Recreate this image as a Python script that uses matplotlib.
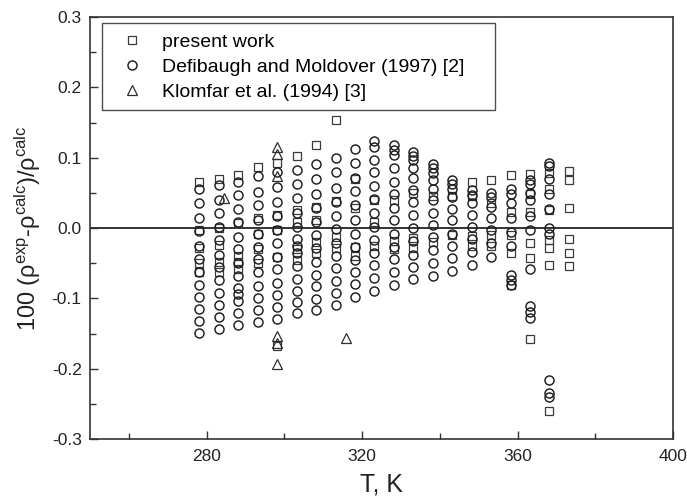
import matplotlib
matplotlib.use('Agg')
import matplotlib.pyplot as plt
from matplotlib.ticker import MultipleLocator

plt.rcParams['font.family'] = ['Liberation Sans', 'DejaVu Sans']
plt.rcParams['mathtext.fontset'] = 'custom'
plt.rcParams['mathtext.rm'] = 'Liberation Sans'
plt.rcParams['mathtext.it'] = 'Liberation Sans'

# present work (squares)
pw_temps = [278.15, 283.15, 288.15, 293.15, 298.15, 303.15, 308.15, 313.15, 318.15, 323.15,
            328.15, 333.15, 338.15, 343.15, 348.15, 353.15, 358.15, 363.15, 368.15, 373.15]
pw_dev = [
    [0.065, -0.003, -0.029, -0.050, -0.063],
    [0.069, 0.000, -0.024, -0.048, -0.062],
    [0.076, 0.007, -0.040, -0.048, -0.058],
    [0.087, 0.014, -0.008, -0.030, -0.050],
    [0.093, 0.018, -0.003, -0.041, -0.168],
    [0.103, 0.026, 0.009, -0.030, -0.045],
    [0.118, 0.030, 0.012, -0.020, -0.035],
    [0.153, 0.038, -0.013, -0.029],
    [0.070, 0.028, -0.027, -0.040],
    [0.040, 0.009, -0.026],
    [0.040, -0.018, -0.030],
    [0.050, -0.014, -0.028],
    [0.045, -0.020],
    [0.045, -0.010],
    [0.066, 0.045, -0.012, -0.025],
    [0.068, 0.035, -0.010, -0.025],
    [0.075, 0.023, -0.010, -0.036, -0.081],
    [0.077, 0.049, 0.023, -0.022, -0.043, -0.158],
    [0.078, 0.056, 0.026, -0.017, -0.029, -0.053, -0.260],
    [0.081, 0.068, 0.028, -0.015, -0.035, -0.054],
]

# Defibaugh and Moldover (circles)
dm_temps = [278.15, 283.15, 288.15, 293.15, 298.15, 303.15, 308.15, 313.15, 318.15, 323.15,
            328.15, 333.15, 338.15, 343.15, 348.15, 353.15, 358.15, 363.15, 368.15]
dm_dev = [
    [0.055, 0.035, 0.014, -0.004, -0.026, -0.044, -0.063, -0.081, -0.098, -0.115, -0.132, -0.149],
    [0.061, 0.040, 0.021, 0.002, -0.017, -0.038, -0.055, -0.074, -0.092, -0.110, -0.127, -0.143],
    [0.066, 0.047, 0.027, 0.008, -0.013, -0.030, -0.050, -0.068, -0.086, -0.094, -0.104, -0.121, -0.138],
    [0.074, 0.051, 0.032, 0.011, -0.008, -0.027, -0.044, -0.063, -0.082, -0.099, -0.116, -0.133],
    [0.079, 0.058, 0.037, 0.017, -0.003, -0.022, -0.041, -0.059, -0.078, -0.095, -0.112, -0.129],
    [0.083, 0.062, 0.042, 0.022, 0.002, -0.016, -0.026, -0.036, -0.054, -0.072, -0.089, -0.105, -0.121],
    [0.091, 0.070, 0.049, 0.029, 0.008, -0.010, -0.029, -0.048, -0.067, -0.083, -0.101, -0.116],
    [0.100, 0.079, 0.057, 0.037, 0.017, -0.002, -0.021, -0.040, -0.057, -0.076, -0.093, -0.109],
    [0.112, 0.092, 0.071, 0.052, 0.032, 0.011, -0.008, -0.027, -0.045, -0.063, -0.080, -0.098],
    [0.123, 0.115, 0.097, 0.079, 0.060, 0.041, 0.021, 0.002, -0.017, -0.036, -0.053, -0.071, -0.089],
    [0.118, 0.111, 0.104, 0.085, 0.066, 0.048, 0.029, 0.011, -0.008, -0.027, -0.044, -0.063, -0.081],
    [0.108, 0.103, 0.097, 0.085, 0.071, 0.054, 0.037, 0.018, 0.000, -0.019, -0.038, -0.055, -0.073],
    [0.091, 0.085, 0.078, 0.068, 0.055, 0.040, 0.022, 0.004, -0.013, -0.031, -0.050, -0.068],
    [0.068, 0.063, 0.056, 0.044, 0.027, 0.011, -0.008, -0.026, -0.043, -0.061],
    [0.054, 0.047, 0.036, 0.018, 0.002, -0.016, -0.034, -0.053],
    [0.050, 0.044, 0.030, 0.014, -0.003, -0.022, -0.041],
    [0.055, 0.049, 0.035, 0.014, -0.005, -0.026, -0.067, -0.074, -0.081],
    [0.068, 0.063, 0.050, 0.040, 0.017, -0.003, -0.059, -0.111, -0.119, -0.128],
    [0.093, 0.088, 0.070, 0.049, 0.027, 0.000, -0.008, -0.216, -0.235, -0.240],
]

# Klomfar et al. (triangles)
kl_temps = [284.4, 298.15, 298.15, 298.15, 298.15, 298.15, 298.15, 315.8]
kl_dev = [0.043, 0.115, 0.105, 0.074, -0.153, -0.164, -0.193, -0.157]


def expand(temps, devs):
    xs, ys = [], []
    for t, col in zip(temps, devs):
        for d in col:
            xs.append(t)
            ys.append(d)
    return xs, ys


fig = plt.figure(figsize=(6.87, 5.0), dpi=100)
ax = fig.add_axes([0.131, 0.122, 0.849, 0.844])

edge = '#333333'
ax.axhline(0, color=edge, lw=1.4, zorder=1)

x, y = expand(pw_temps, pw_dev)
ax.plot(x, y, 's', ms=5.8, mfc='none', mec='#3a3a3a', mew=0.9, label='present work', zorder=2)
x, y = expand(dm_temps, dm_dev)
ax.plot(x, y, 'o', ms=6.5, mfc='none', mec='#1e1e1e', mew=1.05,
        label='Defibaugh and Moldover (1997) [2]', zorder=3)
ax.plot(kl_temps, kl_dev, '^', ms=7, mfc='none', mec='#2e2e2e', mew=0.9,
        label='Klomfar et al. (1994) [3]', zorder=4)

ax.set_xlim(250, 400)
ax.set_ylim(-0.3, 0.3)
ax.set_xticks([280, 320, 360, 400])
ax.xaxis.set_minor_locator(MultipleLocator(20))
ax.yaxis.set_major_locator(MultipleLocator(0.1))
ax.yaxis.set_minor_locator(MultipleLocator(0.05))
ax.yaxis.set_major_formatter(plt.FuncFormatter(lambda v, p: f'{v:.1f}'))
ax.tick_params(which='both', direction='in', color=edge, labelcolor='#222222', labelsize=12.5)
ax.tick_params(which='major', length=6, width=1.0)
ax.tick_params(which='minor', length=4, width=1.0)
ax.tick_params(axis='x', pad=7)
ax.tick_params(axis='y', pad=6)
for s in ax.spines.values():
    s.set_color(edge)
    s.set_linewidth(1.2)

ax.set_xlabel('T, K', fontsize=18, labelpad=6, color='#222222')
ax.set_ylabel('100 (ρ$^{\\rm exp}$-ρ$^{\\rm calc}$)/ρ$^{\\rm calc}$',
              fontsize=17, color='#222222', labelpad=6)

leg = ax.legend(loc='upper left', bbox_to_anchor=(0.021, 0.785, 0.674, 0.2), mode='expand',
                numpoints=1, fontsize=14, frameon=True, fancybox=False, borderpad=0.5,
                handlelength=2.1, handletextpad=0.45, labelspacing=0.38, borderaxespad=0)
leg.get_frame().set_edgecolor('#222222')
leg.get_frame().set_linewidth(1.0)

fig.savefig('out.png', dpi=100)
